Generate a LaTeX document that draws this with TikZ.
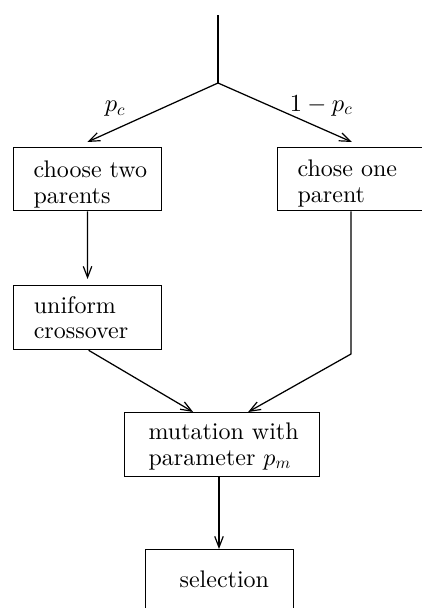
\documentclass[tikz,border=0pt]{standalone}
\usepackage{fontspec}
\setmainfont{lmroman10-regular.otf}
\DeclareFontShape{OML}{cmm}{m}{it}{<->cmmi10}{}
\DeclareFontShape{OT1}{cmr}{m}{n}{<->cmr10}{}
\DeclareFontShape{OMS}{cmsy}{m}{n}{<->cmsy10}{}
\usetikzlibrary{arrows.meta,calc}
\begin{document}
\begin{tikzpicture}[x=1pt,y=-1pt,
  line width=1.25pt,
  arr/.style={-{Straight Barb[length=11pt,width=8.5pt,line width=1.2pt]}},
  boxnode/.style={draw, anchor=north west, align=left, inner ysep=0pt,
    font=\fontsize{24}{25.5}\selectfont},
  lbl/.style={font=\fontsize{24.5}{25.5}\selectfont, inner sep=0pt, anchor=base}]
\useasboundingbox (0,0) rectangle (422,608);
\clip (0,0) rectangle (422,608);
% boxes: text width = width - 2*pad
\node[boxnode, inner xsep=20.5pt, text width=107.5pt, text height=30pt, text depth=33pt]
  (A) at (12.5,147) {choose~two\\parents};
\node[boxnode, inner xsep=20pt, text width=104.5pt, text height=29pt, text depth=34pt]
  (B) at (277,147) {chose~one\\parent};
\node[boxnode, inner xsep=20.5pt, text width=107.5pt, text height=27.7pt, text depth=36.3pt]
  (C) at (12.7,285) {uniform\\crossover};
\node[boxnode, inner xsep=24pt, text width=147pt, text height=27pt, text depth=37pt]
  (D) at (124,412) {mutation~with\\parameter~$p_m$};
\node[boxnode, inner xsep=34pt, text width=80pt, text height=38pt, text depth=26pt]
  (E) at (145,549) {selection};
% connectors
\coordinate (T) at (218,15);
\coordinate (J) at (218,83);
\coordinate (K) at (351,354);
\draw (T) -- (J);
\draw[arr] (J) -- ([yshift=5pt]A.north);
\draw[arr] (J) -- ([xshift=2pt,yshift=5pt]B.north);
\draw[arr] (A.south) -- ([yshift=6pt]C.north);
\draw[arr] (B.south -| K) -- (K) -- ([xshift=26pt]D.north);
\draw[arr] ([xshift=1pt]C.south) -- ([xshift=-29pt]D.north);
\draw[arr] (D.south -| 219,0) -- (219,0 |- E.north);
% labels
\node[lbl] (pc) at (115,111.5) {$p_c$};
\node[lbl] (qc) at (321,111) {$1-p_c$};
\end{tikzpicture}
\end{document}
